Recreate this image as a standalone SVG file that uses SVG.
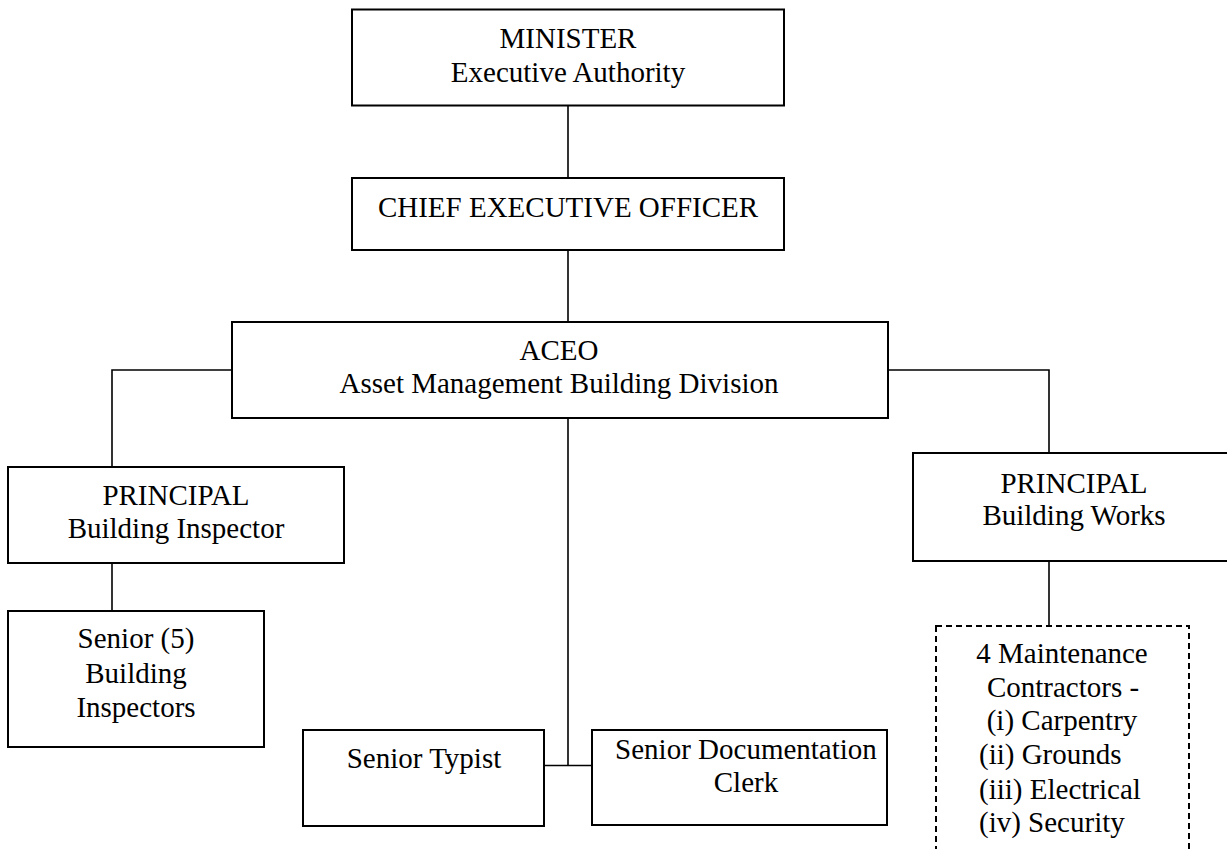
<svg xmlns="http://www.w3.org/2000/svg" width="1227" height="849" viewBox="0 0 1227 849">
<style>
  .box { fill: #fff; stroke: #000; stroke-width: 2; }
  .dash { fill: #fff; stroke: #000; stroke-width: 2; stroke-dasharray: 6 4; }
  .conn { fill: none; stroke: #000; stroke-width: 1.6; }
  text { font-family: "Liberation Serif", "Times New Roman", serif; font-size: 29px; fill: #000; }
  .c { text-anchor: middle; }
</style>
<rect width="1227" height="849" fill="#fff"/>
<g id="connectors">
  <line class="conn" x1="568" y1="105.5" x2="568" y2="178"/>
  <line class="conn" x1="568" y1="250" x2="568" y2="322"/>
  <polyline class="conn" points="232,370 112,370 112,467"/>
  <line class="conn" x1="112" y1="563" x2="112" y2="611"/>
  <polyline class="conn" points="888,370 1049,370 1049,453"/>
  <line class="conn" x1="1049" y1="561" x2="1049" y2="626"/>
  <line class="conn" x1="568" y1="418" x2="568" y2="765.5"/>
  <line class="conn" x1="544" y1="765.5" x2="592" y2="765.5"/>
</g>
<g id="minister">
  <rect class="box" x="352" y="9.5" width="432" height="96"/>
  <text class="c" x="568" y="48">MINISTER</text>
  <text class="c" x="568" y="82">Executive Authority</text>
</g>
<g id="ceo">
  <rect class="box" x="352" y="178" width="432" height="72"/>
  <text class="c" x="568" y="217">CHIEF EXECUTIVE OFFICER</text>
</g>
<g id="aceo">
  <rect class="box" x="232" y="322" width="656" height="96"/>
  <text class="c" x="559" y="360">ACEO</text>
  <text class="c" x="559" y="393">Asset Management Building Division</text>
</g>
<g id="principal-inspector">
  <rect class="box" x="8" y="467" width="336" height="96"/>
  <text class="c" x="176" y="505">PRINCIPAL</text>
  <text class="c" x="176" y="538">Building Inspector</text>
</g>
<g id="senior-inspectors">
  <rect class="box" x="8" y="611" width="256" height="136"/>
  <text class="c" x="136" y="648">Senior (5)</text>
  <text class="c" x="136" y="683">Building</text>
  <text class="c" x="136" y="717">Inspectors</text>
</g>
<g id="principal-works">
  <rect class="box" x="913" y="453" width="330" height="108"/>
  <text class="c" x="1074" y="493">PRINCIPAL</text>
  <text class="c" x="1074" y="525">Building Works</text>
</g>
<g id="contractors">
  <rect class="dash" x="936" y="626" width="253" height="250"/>
  <text class="c" x="1062" y="663">4 Maintenance</text>
  <text class="c" x="1063" y="697">Contractors -</text>
  <text class="c" x="1062" y="730">(i) Carpentry</text>
  <text x="979" y="764">(ii) Grounds</text>
  <text x="979" y="799">(iii) Electrical</text>
  <text x="979" y="832">(iv) Security</text>
</g>
<g id="senior-typist">
  <rect class="box" x="303" y="730" width="241" height="96"/>
  <text class="c" x="424" y="768">Senior Typist</text>
</g>
<g id="senior-doc-clerk">
  <rect class="box" x="592" y="730" width="295" height="95"/>
  <text class="c" x="746" y="759">Senior Documentation</text>
  <text class="c" x="746" y="792">Clerk</text>
</g>
</svg>
